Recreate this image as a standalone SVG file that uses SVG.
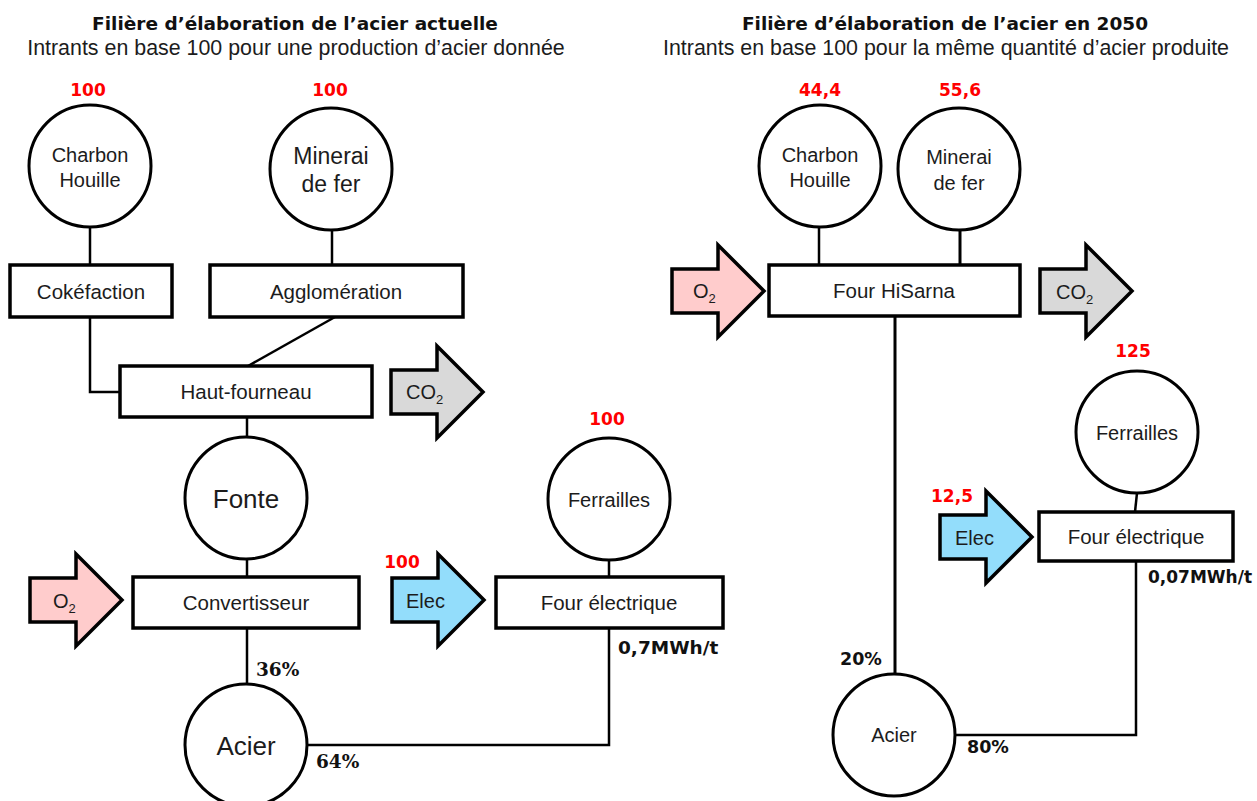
<svg xmlns="http://www.w3.org/2000/svg" xmlns:xlink="http://www.w3.org/1999/xlink" width="1257" height="801" viewBox="0 0 1257 801">
<style>
  .title{font-family:"DejaVu Sans",sans-serif;font-weight:bold;font-size:18.5px;fill:#111;text-anchor:middle}
  .sub{font-family:"Liberation Sans",Arial,sans-serif;font-size:21.4px;fill:#1c1c1c;text-anchor:middle}
  .box{fill:#fff;stroke:#000;stroke-width:3.5}
  .circ{fill:#fff;stroke:#000;stroke-width:3}
  .lbl{font-family:"Liberation Sans",Arial,sans-serif;font-size:20.5px;fill:#1c1c1c;text-anchor:middle}
  .clbl{font-family:"Liberation Sans",Arial,sans-serif;font-size:20px;fill:#1c1c1c;text-anchor:middle}
  .big{font-size:26px}
  .mid{font-size:23px}
  .alb{font-family:"Liberation Sans",Arial,sans-serif;font-size:20px;fill:#1c1c1c}
  .sb{font-size:13px}
  .num{font-family:"DejaVu Sans",sans-serif;font-weight:bold;font-size:17px;fill:#ff0000;text-anchor:middle}
  .pct{font-family:"DejaVu Sans",sans-serif;font-weight:bold;font-size:17.5px;fill:#111}
  .mwl{font-size:18.5px}
  .mwr{font-size:17px}
  .pcts{font-family:"DejaVu Serif",serif;font-weight:bold;font-size:18.5px;fill:#111}
  .arrow{stroke:#000;stroke-width:3.5;stroke-linejoin:miter}
  .conn{fill:none;stroke:#000;stroke-width:2.5}
  .thick{stroke-width:3}
</style>
<defs>
  <path id="blk" d="M0,-22 H46 V-46 L92,0 L46,46 V22 H0 Z"/>
</defs>
<rect width="1257" height="801" fill="#fff"/>

<g id="titles">
  <text class="title" x="295" y="30">Filière d’élaboration de l’acier actuelle</text>
  <text class="sub" x="296" y="55">Intrants en base 100 pour une production d’acier donnée</text>
  <text class="title" x="945" y="30">Filière d’élaboration de l’acier en 2050</text>
  <text class="sub" x="946" y="55">Intrants en base 100 pour la même quantité d’acier produite</text>
</g>

<g id="connectors">
  <line class="conn" x1="90" y1="227" x2="90" y2="265"/>
  <line class="conn" x1="332" y1="230" x2="332" y2="265"/>
  <polyline class="conn" points="90,317 90,392 120,392"/>
  <line class="conn" x1="335" y1="317" x2="248" y2="366"/>
  <line class="conn" x1="247" y1="417" x2="247" y2="437"/>
  <line class="conn" x1="247" y1="559" x2="247" y2="577"/>
  <line class="conn" x1="247" y1="628" x2="247" y2="684"/>
  <line class="conn" x1="609" y1="560" x2="609" y2="577"/>
  <polyline class="conn" points="609,628 609,745 307,745"/>
  <line class="conn" x1="819" y1="227" x2="819" y2="265"/>
  <line class="conn thick" x1="960" y1="230" x2="960" y2="265"/>
  <line class="conn thick" x1="895" y1="316" x2="895" y2="673"/>
  <line class="conn" x1="1137" y1="493" x2="1135" y2="512"/>
  <polyline class="conn" points="1136,561 1136,735 956,735"/>
</g>

<g id="charbon-l">
  <text class="num" x="88" y="96">100</text>
  <circle class="circ" cx="90" cy="166" r="61"/>
  <text class="clbl" x="90" y="162">Charbon</text>
  <text class="clbl" x="90" y="187">Houille</text>
</g>
<g id="minerai-l">
  <text class="num" x="330" y="96">100</text>
  <circle class="circ" cx="331" cy="169" r="61"/>
  <text class="clbl mid" x="331" y="164">Minerai</text>
  <text class="clbl mid" x="331" y="192">de fer</text>
</g>
<g id="cokefaction">
  <rect class="box" x="10" y="265" width="162" height="52"/>
  <text class="lbl" x="91" y="299">Cokéfaction</text>
</g>
<g id="agglomeration">
  <rect class="box" x="210" y="265" width="253" height="52"/>
  <text class="lbl" x="336" y="299">Agglomération</text>
</g>
<g id="haut-fourneau">
  <rect class="box" x="120" y="366" width="252" height="51"/>
  <text class="lbl" x="246" y="399">Haut-fourneau</text>
</g>
<g id="co2-l">
  <use href="#blk" xlink:href="#blk" class="arrow" fill="#d9d9d9" transform="translate(391,392)"/>
  <text class="alb" x="406" y="399">CO<tspan class="sb" dy="5">2</tspan></text>
</g>
<g id="fonte">
  <circle class="circ" cx="246" cy="498" r="61"/>
  <text class="clbl big" x="246" y="508">Fonte</text>
</g>
<g id="o2-l">
  <use href="#blk" xlink:href="#blk" class="arrow" fill="#ffcccc" transform="translate(30,600)"/>
  <text class="alb" x="53" y="608">O<tspan class="sb" dy="5">2</tspan></text>
</g>
<g id="convertisseur">
  <rect class="box" x="133" y="577" width="226" height="51"/>
  <text class="lbl" x="246" y="610">Convertisseur</text>
</g>
<g id="elec-l">
  <text class="num" x="402" y="568">100</text>
  <use href="#blk" xlink:href="#blk" class="arrow" fill="#93ddfb" transform="translate(392,600)"/>
  <text class="alb" x="406" y="608">Elec</text>
</g>
<g id="ferrailles-l">
  <text class="num" x="607" y="425">100</text>
  <circle class="circ" cx="609" cy="499" r="61"/>
  <text class="clbl" x="609" y="507">Ferrailles</text>
</g>
<g id="four-electrique-l">
  <rect class="box" x="496" y="577" width="227" height="51"/>
  <text class="lbl" x="609" y="610">Four électrique</text>
  <text class="pct mwl" x="618" y="654">0,7MWh/t</text>
</g>
<g id="acier-l">
  <circle class="circ" cx="246" cy="745" r="61"/>
  <text class="clbl big" x="246" y="755">Acier</text>
  <text class="pcts" x="256" y="676">36%</text>
  <text class="pcts" x="316" y="768">64%</text>
</g>

<g id="charbon-r">
  <text class="num" x="820" y="96">44,4</text>
  <circle class="circ" cx="820" cy="166" r="61"/>
  <text class="clbl" x="820" y="162">Charbon</text>
  <text class="clbl" x="820" y="187">Houille</text>
</g>
<g id="minerai-r">
  <text class="num" x="960" y="96">55,6</text>
  <circle class="circ" cx="959" cy="169" r="61"/>
  <text class="clbl" x="959" y="164">Minerai</text>
  <text class="clbl" x="959" y="190">de fer</text>
</g>
<g id="o2-r">
  <use href="#blk" xlink:href="#blk" class="arrow" fill="#ffcccc" transform="translate(672,291)"/>
  <text class="alb" x="693" y="298">O<tspan class="sb" dy="5">2</tspan></text>
</g>
<g id="four-hisarna">
  <rect class="box" x="769" y="265" width="251" height="51"/>
  <text class="lbl" x="894" y="298">Four HiSarna</text>
</g>
<g id="co2-r">
  <use href="#blk" xlink:href="#blk" class="arrow" fill="#d9d9d9" transform="translate(1040,291)"/>
  <text class="alb" x="1056" y="299">CO<tspan class="sb" dy="5">2</tspan></text>
</g>
<g id="ferrailles-r">
  <text class="num" x="1133" y="357">125</text>
  <circle class="circ" cx="1137" cy="432" r="61"/>
  <text class="clbl" x="1137" y="440">Ferrailles</text>
</g>
<g id="elec-r">
  <text class="num" x="952" y="502">12,5</text>
  <use href="#blk" xlink:href="#blk" class="arrow" fill="#93ddfb" transform="translate(940,537)"/>
  <text class="alb" x="955" y="545">Elec</text>
</g>
<g id="four-electrique-r">
  <rect class="box" x="1039" y="512" width="194" height="49"/>
  <text class="lbl" x="1136" y="544">Four électrique</text>
  <text class="pct mwr" x="1148" y="583">0,07MWh/t</text>
</g>
<g id="acier-r">
  <circle class="circ" cx="894" cy="735" r="61"/>
  <text class="clbl" x="894" y="742">Acier</text>
  <text class="pct" x="840" y="665">20%</text>
  <text class="pct" x="967" y="753">80%</text>
</g>
</svg>
